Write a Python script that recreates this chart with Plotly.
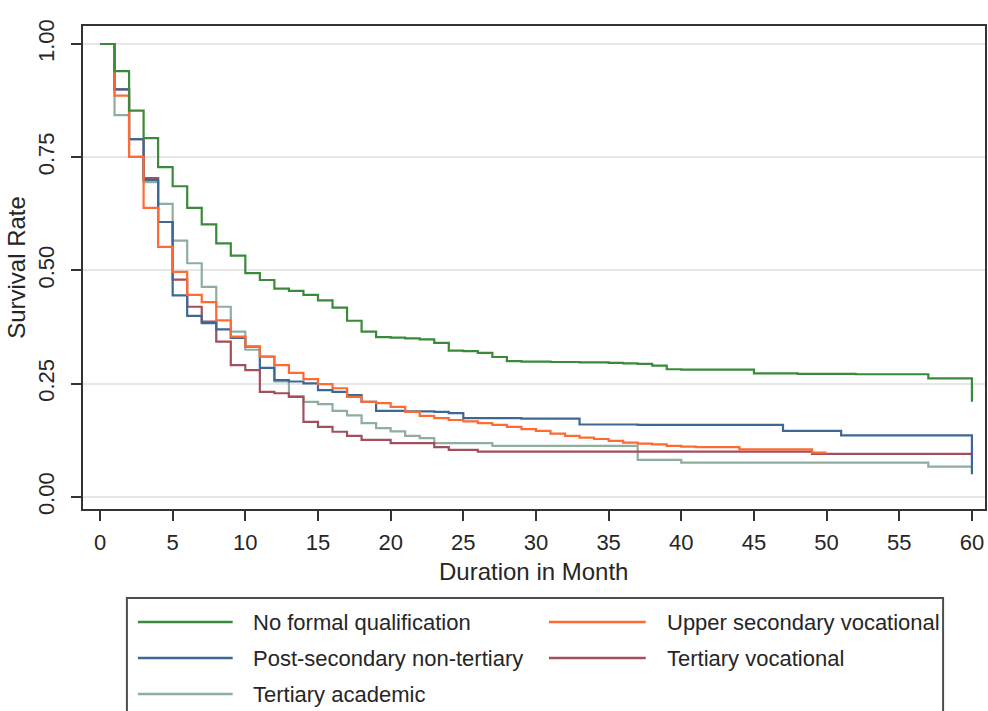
import plotly.graph_objects as go

# ---------------- data ----------------
months = list(range(61))
months_upper = list(range(51))

series_names = [
    "No formal qualification",
    "Upper secondary vocational",
    "Post-secondary non-tertiary",
    "Tertiary vocational",
    "Tertiary academic",
]

no_formal = [1.0, 0.94, 0.853, 0.792, 0.728, 0.686, 0.638, 0.602, 0.56, 0.533,
             0.494, 0.479, 0.46, 0.455, 0.446, 0.434, 0.418, 0.389, 0.365, 0.353,
             0.352, 0.35, 0.348, 0.34, 0.323, 0.322, 0.318, 0.309, 0.300, 0.299,
             0.299, 0.298, 0.298, 0.297, 0.297, 0.296, 0.295, 0.294, 0.290, 0.282,
             0.281, 0.281, 0.281, 0.281, 0.281, 0.273, 0.273, 0.273, 0.272, 0.272,
             0.272, 0.272, 0.271, 0.271, 0.271, 0.271, 0.271, 0.262, 0.262, 0.262,
             0.21]

upper_sec_voc = [1.0, 0.886, 0.751, 0.638, 0.552, 0.497, 0.446, 0.43, 0.39, 0.354,
                 0.332, 0.31, 0.291, 0.274, 0.26, 0.249, 0.24, 0.221, 0.21, 0.207,
                 0.199, 0.188, 0.179, 0.174, 0.17, 0.167, 0.163, 0.159, 0.155, 0.15,
                 0.146, 0.14, 0.135, 0.131, 0.128, 0.124, 0.12, 0.118, 0.116, 0.113,
                 0.111, 0.11, 0.11, 0.11, 0.105, 0.105, 0.105, 0.105, 0.105, 0.098,
                 0.098]

post_sec = [1.0, 0.90, 0.79, 0.70, 0.607, 0.445, 0.40, 0.384, 0.37, 0.351,
            0.332, 0.285, 0.258, 0.255, 0.251, 0.236, 0.232, 0.225, 0.21, 0.19,
            0.19, 0.189, 0.189, 0.188, 0.185, 0.174, 0.174, 0.174, 0.174, 0.173,
            0.173, 0.173, 0.173, 0.160, 0.160, 0.160, 0.160, 0.159, 0.159, 0.159,
            0.159, 0.159, 0.159, 0.159, 0.159, 0.159, 0.159, 0.146, 0.146, 0.146,
            0.146, 0.136, 0.136, 0.136, 0.136, 0.136, 0.136, 0.136, 0.136, 0.136,
            0.05]

tert_voc = [1.0, 0.90, 0.79, 0.704, 0.607, 0.48, 0.42, 0.387, 0.343, 0.291,
            0.28, 0.232, 0.229, 0.221, 0.166, 0.155, 0.144, 0.135, 0.126, 0.126,
            0.119, 0.119, 0.119, 0.11, 0.104, 0.104, 0.10, 0.10, 0.10, 0.10,
            0.10, 0.10, 0.10, 0.10, 0.10, 0.10, 0.10, 0.10, 0.10, 0.10,
            0.10, 0.10, 0.10, 0.10, 0.10, 0.10, 0.10, 0.10, 0.10, 0.095,
            0.095, 0.095, 0.095, 0.095, 0.095, 0.095, 0.095, 0.095, 0.095, 0.095,
            0.088]

tert_acad = [1.0, 0.843, 0.751, 0.695, 0.647, 0.566, 0.516, 0.464, 0.42, 0.365,
             0.325, 0.31, 0.255, 0.222, 0.21, 0.205, 0.19, 0.18, 0.163, 0.152,
             0.145, 0.135, 0.13, 0.119, 0.119, 0.119, 0.119, 0.113, 0.113, 0.113,
             0.113, 0.113, 0.113, 0.113, 0.113, 0.113, 0.113, 0.082, 0.082, 0.082,
             0.076, 0.076, 0.076, 0.076, 0.076, 0.076, 0.076, 0.076, 0.076, 0.076,
             0.076, 0.076, 0.076, 0.076, 0.076, 0.076, 0.076, 0.067, 0.067, 0.067,
             0.063]

x_ticks = [0, 5, 10, 15, 20, 25, 30, 35, 40, 45, 50, 55, 60]
y_ticks = [0.0, 0.25, 0.5, 0.75, 1.0]
y_tick_labels = ["0.00", "0.25", "0.50", "0.75", "1.00"]

colors = {
    "No formal qualification": "#3a8a3a",
    "Upper secondary vocational": "#ff6a33",
    "Post-secondary non-tertiary": "#3d6896",
    "Tertiary vocational": "#a24f5c",
    "Tertiary academic": "#8fae9f",
}

assert len(no_formal) == 61 and len(post_sec) == 61 and len(tert_voc) == 61
assert len(tert_acad) == 61 and len(upper_sec_voc) == 51

# ---------------- figure ----------------
W, H = 988, 711
ML, MR, MT, MB = 83, 1, 26, 202
PW, PH = W - ML - MR, H - MT - MB

def px(x):
    return (x - ML) / PW

def py(y):
    return (H - MB - y) / PH

fig = go.Figure()
data_map = {
    "Tertiary academic": (months, tert_acad),
    "Tertiary vocational": (months, tert_voc),
    "Post-secondary non-tertiary": (months, post_sec),
    "Upper secondary vocational": (months_upper, upper_sec_voc),
    "No formal qualification": (months, no_formal),
}
for name, (xs, ys) in data_map.items():
    fig.add_trace(go.Scatter(
        x=xs, y=ys, mode="lines", line=dict(shape="hv", color=colors[name], width=2.2),
        name=name, showlegend=False, hoverinfo="x+y+name"))

font_family = "Liberation Sans, Arial, sans-serif"
txt_color = "#262626"

fig.update_layout(
    width=W, height=H,
    margin=dict(l=ML, r=MR, t=MT, b=MB),
    paper_bgcolor="white", plot_bgcolor="white",
    font=dict(family=font_family, color=txt_color),
    xaxis=dict(
        range=[-1.17, 60.9], tickmode="array", tickvals=x_ticks,
        ticks="outside", ticklen=10, tickwidth=2, tickcolor="#333",
        showline=True, linecolor="#333", linewidth=2, mirror=True,
        showgrid=False, zeroline=False,
        tickfont=dict(size=22, color=txt_color),
        ticklabelstandoff=3,
    ),
    yaxis=dict(
        range=[-0.0265, 1.0397], tickmode="array", tickvals=y_ticks, ticktext=y_tick_labels,
        tickangle=-90,
        ticks="outside", ticklen=10, tickwidth=2, tickcolor="#333",
        showline=True, linecolor="#333", linewidth=2, mirror=True,
        showgrid=True, gridcolor="#e6e6e6", gridwidth=2, zeroline=False,
        tickfont=dict(size=22, color=txt_color),
        ticklabelstandoff=8,
        title=dict(text="Survival Rate", font=dict(size=24, color=txt_color), standoff=2),
    ),
)

# ---------------- x-axis title and manual legend ----------------
shapes = [dict(type="rect", xref="paper", yref="paper",
               x0=px(127), x1=px(945), y0=py(598), y1=py(730),
               line=dict(color="#4d4d4d", width=2), fillcolor="rgba(0,0,0,0)")]
annotations = [dict(xref="paper", yref="paper", x=px(534), y=py(571),
                    xanchor="center", yanchor="middle", showarrow=False,
                    text="Duration in Month",
                    font=dict(size=24, color=txt_color, family=font_family))]
legend_layout = [
    ("No formal qualification", 138, 233, 251, 622),
    ("Upper secondary vocational", 550, 647, 666, 622),
    ("Post-secondary non-tertiary", 138, 233, 251, 658),
    ("Tertiary vocational", 550, 647, 666, 658),
    ("Tertiary academic", 138, 233, 251, 694),
]
for name, lx0, lx1, tx, ry in legend_layout:
    shapes.append(dict(type="line", xref="paper", yref="paper",
                       x0=px(lx0), x1=px(lx1), y0=py(ry), y1=py(ry),
                       line=dict(color=colors[name], width=2.5)))
    annotations.append(dict(xref="paper", yref="paper", x=px(tx), y=py(ry),
                            xanchor="left", yanchor="middle", showarrow=False,
                            text=name, font=dict(size=22, color=txt_color, family=font_family)))
fig.update_layout(shapes=shapes, annotations=annotations)

fig.write_html("out.html")
